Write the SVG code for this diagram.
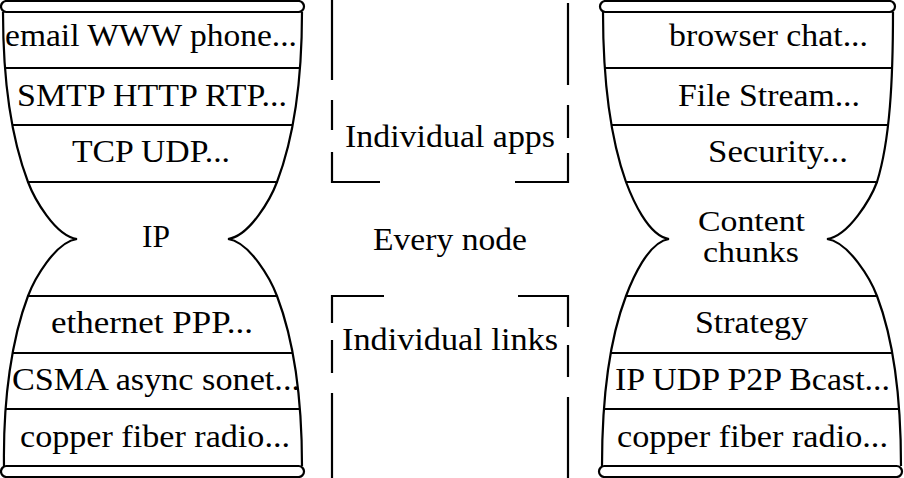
<svg xmlns="http://www.w3.org/2000/svg" width="904" height="478" viewBox="0 0 904 478">
<style>
.o{fill:none;stroke:#000;stroke-width:2.2}
.b{fill:none;stroke:#000;stroke-width:2}
.r{fill:#fff;stroke:#000;stroke-width:2.2}
.d{fill:none;stroke:#000;stroke-width:2.2}
.t{font-family:'Liberation Serif','DejaVu Serif','Times New Roman',serif;font-size:31px;fill:#000}
.s{font-size:29px}
</style>
<rect width="904" height="478" fill="#fff"/>
<g id="left-stack">
<path class="o" d="M3,12 C3,80 12,140 28,182 C34,198 55,236 77,239 C55,242 34,280 28,296 C12,338 3,398 4,466"/>
<path class="o" d="M302,12 C302,80 293,140 277,182 C271,198 250,236 228,239 C250,242 271,280 277,296 C293,338 302,398 302,466"/>
<path class="b" d="M5,68H300M12,125H293M28,182H277M28,296H277M12,353H293M5,409H300"/>
<rect class="r" x="1" y="1" width="303" height="11" rx="5.5"/>
<rect class="r" x="1" y="466" width="303" height="11" rx="5.5"/>
<g class="t" font-family="Liberation Serif, DejaVu Serif, serif">
<text x="5" y="46" textLength="292" lengthAdjust="spacingAndGlyphs">email WWW phone...</text>
<text x="17" y="106" textLength="270" lengthAdjust="spacingAndGlyphs">SMTP HTTP RTP...</text>
<text x="72" y="162" textLength="158" lengthAdjust="spacingAndGlyphs">TCP UDP...</text>
<text x="142" y="247" textLength="28" lengthAdjust="spacingAndGlyphs">IP</text>
<text x="51" y="333" textLength="202" lengthAdjust="spacingAndGlyphs">ethernet PPP...</text>
<text x="12" y="390" textLength="288" lengthAdjust="spacingAndGlyphs">CSMA async sonet...</text>
<text x="20" y="447" textLength="270" lengthAdjust="spacingAndGlyphs">copper fiber radio...</text>
</g>
</g>
<g id="right-stack">
<path class="o" d="M603,12 C603,80 611,140 626,182 C632,198 648,236 669,239 C648,242 632,280 626,296 C610,338 602,398 602,466"/>
<path class="o" d="M893,12 C893,80 890,140 877,182 C871,198 849,236 827,239 C849,242 871,280 877,296 C893,338 901,398 901,466"/>
<path class="b" d="M604,68H892M611,125H888M626,182H877M626,296H877M610,353H893M604,409H898"/>
<rect class="r" x="600" y="1" width="295" height="11" rx="5.5"/>
<rect class="r" x="599" y="466" width="303" height="11" rx="5.5"/>
<g class="t" font-family="Liberation Serif, DejaVu Serif, serif">
<text x="669" y="46" textLength="199" lengthAdjust="spacingAndGlyphs">browser chat...</text>
<text x="678" y="106" textLength="182" lengthAdjust="spacingAndGlyphs">File Stream...</text>
<text x="708" y="162" textLength="140" lengthAdjust="spacingAndGlyphs">Security...</text>
<text class="s" x="698" y="231" textLength="107" lengthAdjust="spacingAndGlyphs">Content</text>
<text class="s" x="703" y="262" textLength="96" lengthAdjust="spacingAndGlyphs">chunks</text>
<text x="695" y="333" textLength="113" lengthAdjust="spacingAndGlyphs">Strategy</text>
<text x="615" y="390" textLength="275" lengthAdjust="spacingAndGlyphs">IP UDP P2P Bcast...</text>
<text x="617" y="447" textLength="271" lengthAdjust="spacingAndGlyphs">copper fiber radio...</text>
</g>
</g>
<g id="middle-labels" class="t" font-family="Liberation Serif, DejaVu Serif, serif">
<text x="345" y="147" textLength="210" lengthAdjust="spacingAndGlyphs">Individual apps</text>
<text x="373" y="250" textLength="154" lengthAdjust="spacingAndGlyphs">Every node</text>
<text x="342" y="350" textLength="216" lengthAdjust="spacingAndGlyphs">Individual links</text>
</g>
<g id="connectors">
<path class="d" d="M332,0V80M332,100V130M332,152V182H380"/>
<path class="d" d="M568,3V85M568,105V138M568,153V182H515"/>
<path class="d" d="M384,296H332V323M332,340V373M332,393V478"/>
<path class="d" d="M518,296H568V327M568,345V377M568,397V478"/>
</g>
</svg>
